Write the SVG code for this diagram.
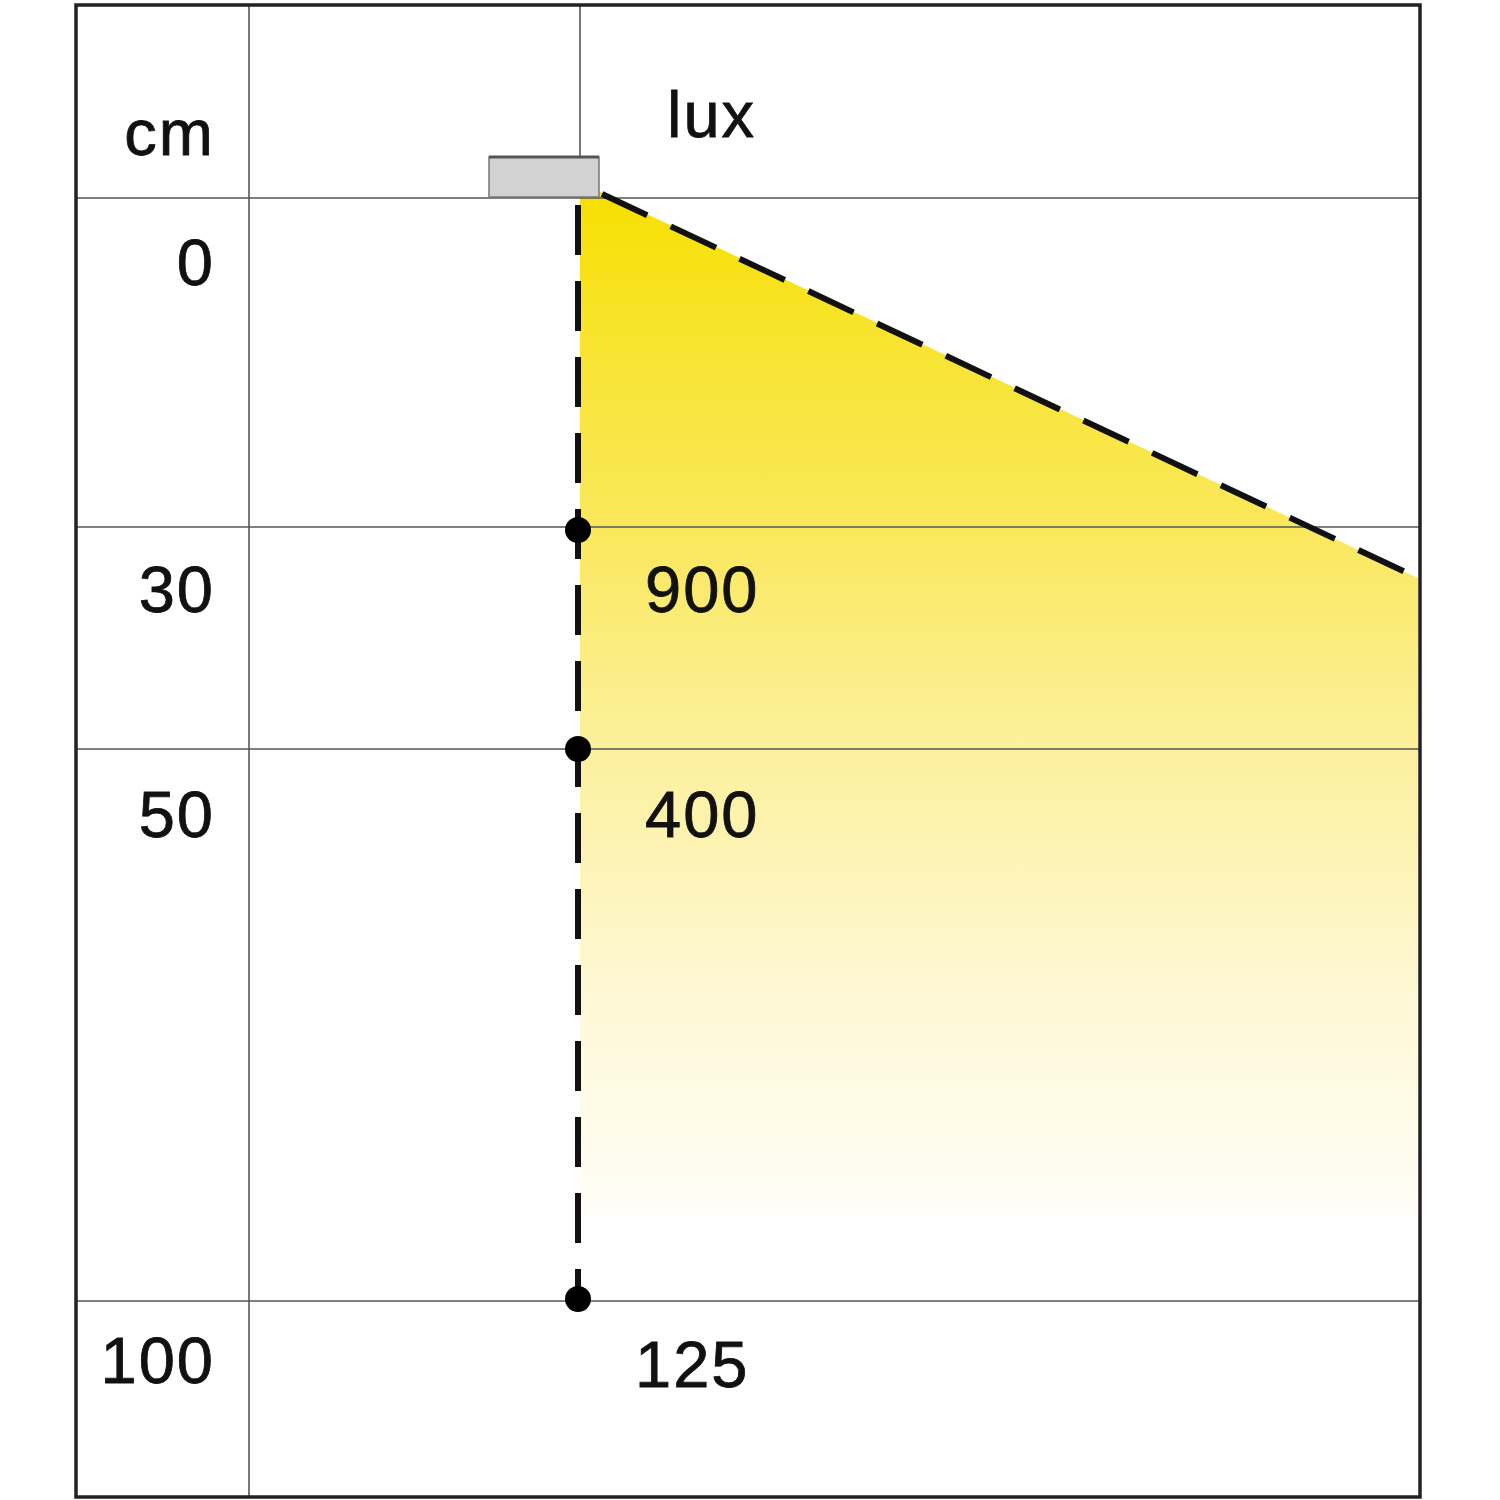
<svg xmlns="http://www.w3.org/2000/svg" width="1500" height="1500" viewBox="0 0 1500 1500">
<defs>
<linearGradient id="glow" x1="0" y1="0" x2="0" y2="1" gradientUnits="objectBoundingBox">
<stop offset="0" stop-color="#f6e000"/>
<stop offset="0.15" stop-color="#f8e430"/>
<stop offset="0.33" stop-color="#fae85c"/>
<stop offset="0.54" stop-color="#fcf09c"/>
<stop offset="0.79" stop-color="#fef8d6"/>
<stop offset="1" stop-color="#fffef8"/>
</linearGradient>
<style>
.grid{stroke:#555;stroke-width:1.6;fill:none}
.t{font-family:"Liberation Sans",Arial,sans-serif;font-size:65px;fill:#111;stroke:#111;stroke-width:0.8;letter-spacing:2px}
.dash{stroke:#111;stroke-width:6;fill:none;stroke-dasharray:50 26}
</style>
</defs>
<rect x="0" y="0" width="1500" height="1500" fill="#fff"/>
<g id="beam">
<polygon points="580,192 600,192 1418,578 1418,1215 580,1215" fill="url(#glow)"/>
</g>
<g id="grid">
<line class="grid" x1="249" y1="5" x2="249" y2="1497"/>
<line class="grid" x1="580" y1="5" x2="580" y2="198"/>
<line class="grid" x1="76" y1="198" x2="1420" y2="198"/>
<line class="grid" x1="76" y1="527" x2="1420" y2="527"/>
<line class="grid" x1="76" y1="749" x2="1420" y2="749"/>
<line class="grid" x1="76" y1="1301" x2="1420" y2="1301"/>
</g>
<rect id="frame" x="76" y="5" width="1344" height="1492" fill="none" stroke="#222" stroke-width="3.5"/>
<g id="lamp">
<rect x="489" y="157" width="110" height="40" fill="#d2d2d2" stroke="#777" stroke-width="1.5"/>
<line x1="489" y1="157" x2="599" y2="157" stroke="#555" stroke-width="3"/>
</g>
<g id="connectors">
<line class="dash" x1="602" y1="194" x2="1418" y2="578"/>
<line class="dash" x1="578" y1="205" x2="578" y2="1299" stroke-dasharray="46 30"/>
</g>
<g id="points" fill="#000">
<circle cx="578" cy="530" r="13"/>
<circle cx="578" cy="749" r="13"/>
<circle cx="578" cy="1299" r="13"/>
</g>
<g id="labels">
<text class="t" x="215" y="155" text-anchor="end">cm</text>
<text class="t" x="215" y="285" text-anchor="end">0</text>
<text class="t" x="215" y="612" text-anchor="end">30</text>
<text class="t" x="215" y="837" text-anchor="end">50</text>
<text class="t" x="215" y="1383" text-anchor="end">100</text>
<text class="t" x="667" y="137">lux</text>
<text class="t" x="645" y="612">900</text>
<text class="t" x="645" y="837">400</text>
<text class="t" x="635" y="1387">125</text>
</g>
</svg>
